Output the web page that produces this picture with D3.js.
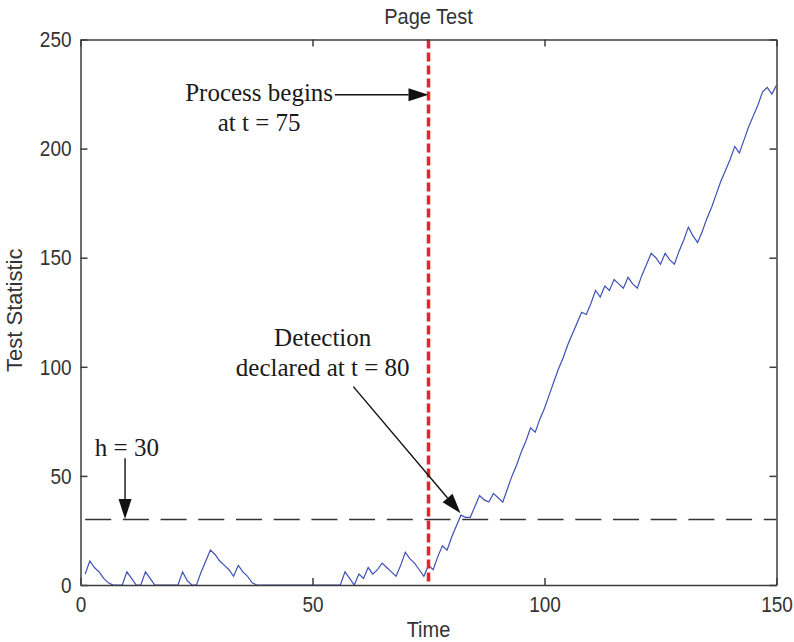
<!DOCTYPE html>
<html>
<head>
<meta charset="utf-8">
<script src="https://cdn.jsdelivr.net/npm/d3@7"></script>
<style>
  html, body { margin: 0; padding: 0; background: #fff; }
  svg { display: block; }
  .tall { transform-box: fill-box; transform-origin: center; }
</style>
</head>
<body>
<svg id="chart" width="794" height="642"></svg>
<script>
// ---- data ----
const chartTitle = "Page Test";
const xLabel = "Time";
const yLabel = "Test Statistic";
const startTime = 1;
const statValues = [
  5, 11, 8, 6, 3, 1, 0, 0, 0, 6,
  3, 0, 0, 6, 3, 0, 0, 0, 0, 0,
  0, 6, 2, 0, 0, 6, 11, 16, 14, 11,
  9, 7, 4, 9, 6, 4, 1, 0, 0, 0,
  0, 0, 0, 0, 0, 0, 0, 0, 0, 0,
  0, 0, 0, 0, 0, 0, 6, 3, 0, 5,
  3, 8, 5, 7, 10, 8, 6, 4, 9, 15,
  12, 10, 7, 4, 9, 7, 13, 18, 16, 22,
  27, 32, 31, 31, 36, 41, 39, 38, 42, 40,
  38, 44, 50, 55, 61, 66, 72, 70, 76, 81,
  87, 93, 99, 104, 110, 115, 120, 125, 124, 129,
  135, 132, 137, 135, 140, 138, 136, 141, 138, 136,
  142, 147, 152, 150, 147, 152, 149, 147, 153, 158,
  164, 160, 157, 162, 168, 173, 179, 185, 190, 195,
  201, 198, 204, 210, 215, 220, 226, 228, 225, 229
];
const xTicks = [0, 50, 100, 150];
const yTicks = [0, 50, 100, 150, 200, 250];
const xDomain = [0, 150];
const yDomain = [0, 250];
const threshold = 30;
const processStart = 75;
// annotations (in data units)
const annoProcess = { lines: ["Process begins", "at t = 75"], x: 38.5, y: 221.6, from: [54.8, 224.7], to: [75, 224.7] };
const annoDetect = { lines: ["Detection", "declared at t = 80"], x: 52.2, y: 109.6, from: [58.8, 90.9], to: [81.9, 32.9] };
const annoH = { lines: ["h = 30"], x: 10, y: 59.1, from: [9.6, 58.1], to: [9.6, 30.2] };

// ---- layout ----
const svg = d3.select("#chart");
const pL = 80.5, pR = 776.5, pT = 39.5, pB = 585;
const x = d3.scaleLinear().domain(xDomain).range([pL, pR]);
const y = d3.scaleLinear().domain(yDomain).range([pB, pT]);
const sans = "'Liberation Sans', Arial, Helvetica, sans-serif";
const serif = "'Liberation Serif', 'Times New Roman', serif";
const axisColor = "#3c3c3c";

const data = statValues.map((v, i) => ({ t: startTime + i, v }));

svg.append("defs").append("clipPath").attr("id", "plotclip")
  .append("rect").attr("x", pL).attr("y", pT).attr("width", pR - pL).attr("height", pB - pT);

// threshold dashed line
svg.append("line")
  .attr("x1", x(xDomain[0])).attr("x2", x(xDomain[1]))
  .attr("y1", y(threshold)).attr("y2", y(threshold))
  .attr("stroke", "#333").attr("stroke-width", 1.6)
  .attr("stroke-dasharray", "26,11.7").attr("stroke-dashoffset", 33);

// data line
svg.append("path")
  .datum(data)
  .attr("clip-path", "url(#plotclip)")
  .attr("fill", "none")
  .attr("stroke", "#3f50b4")
  .attr("stroke-width", 1.2)
  .attr("d", d3.line().x(d => x(d.t)).y(d => y(d.v)));

// red dashed vertical
svg.append("line")
  .attr("x1", x(processStart)).attr("x2", x(processStart))
  .attr("y1", y(yDomain[1])).attr("y2", y(yDomain[0]))
  .attr("stroke", "#e8232b").attr("stroke-width", 3.5)
  .attr("stroke-dasharray", "9,4");

// axes box with inward ticks
const tickLen = 7;
const axG = svg.append("g");
const xAxisB = d3.axisBottom(x).tickValues(xTicks).tickSizeInner(-tickLen).tickSizeOuter(0).tickPadding(12);
const xAxisT = d3.axisTop(x).tickValues(xTicks).tickSizeInner(-tickLen).tickSizeOuter(0).tickFormat("");
const yAxisL = d3.axisLeft(y).tickValues(yTicks).tickSizeInner(-tickLen).tickSizeOuter(0).tickPadding(9);
const yAxisR = d3.axisRight(y).tickValues(yTicks).tickSizeInner(-tickLen).tickSizeOuter(0).tickFormat("");

function styleAxis(g) {
  g.select(".domain").attr("stroke", axisColor).attr("stroke-width", 1.5);
  g.selectAll(".tick line").attr("stroke", axisColor).attr("stroke-width", 1.5);
  g.selectAll(".tick text").attr("fill", "#333").attr("class", "tall")
    .style("font-family", sans).style("font-size", "19px").style("transform", "scaleY(1.17)");
}
axG.append("g").attr("transform", `translate(0,${pB})`).call(xAxisB).call(styleAxis);
axG.append("g").attr("transform", `translate(0,${pT})`).call(xAxisT).call(styleAxis);
axG.append("g").attr("transform", `translate(${pL},0)`).call(yAxisL).call(styleAxis);
axG.append("g").attr("transform", `translate(${pR},0)`).call(yAxisR).call(styleAxis);

// titles
svg.append("text").attr("x", (pL + pR) / 2).attr("y", 23)
  .attr("text-anchor", "middle").attr("fill", "#333").attr("class", "tall")
  .style("font-family", sans).style("font-size", "20px").style("transform", "scaleY(1.1)")
  .text(chartTitle);
svg.append("text").attr("x", (pL + pR) / 2).attr("y", 636)
  .attr("text-anchor", "middle").attr("fill", "#333").attr("class", "tall")
  .style("font-family", sans).style("font-size", "20px").style("transform", "scaleY(1.1)")
  .text(xLabel);
svg.append("text").attr("transform", `translate(22,${(pT + pB) / 2 - 2}) rotate(-90)`)
  .attr("text-anchor", "middle").attr("fill", "#333")
  .style("font-family", sans).style("font-size", "22px").text(yLabel);

// annotations
function arrow(a) {
  const x1 = x(a.from[0]), y1 = y(a.from[1]), x2 = x(a.to[0]), y2 = y(a.to[1]);
  const ang = Math.atan2(y2 - y1, x2 - x1);
  const hl = 20, hw = 6.5;
  const bx = x2 - hl * Math.cos(ang), by = y2 - hl * Math.sin(ang);
  svg.append("line").attr("x1", x1).attr("y1", y1).attr("x2", bx).attr("y2", by)
    .attr("stroke", "#111").attr("stroke-width", 1.4);
  const px = -Math.sin(ang) * hw, py = Math.cos(ang) * hw;
  svg.append("path")
    .attr("d", `M${x2},${y2}L${bx + px},${by + py}L${bx - px},${by - py}Z`)
    .attr("fill", "#111");
}
function label(a) {
  const t = svg.append("text").attr("text-anchor", "middle").attr("fill", "#1a1a1a")
    .style("font-family", serif).style("font-size", "25px");
  a.lines.forEach((ln, i) => {
    t.append("tspan").attr("x", x(a.x)).attr("y", y(a.y) + i * 30).text(ln);
  });
}
[annoProcess, annoDetect, annoH].forEach(a => { arrow(a); label(a); });
</script>
</body>
</html>
